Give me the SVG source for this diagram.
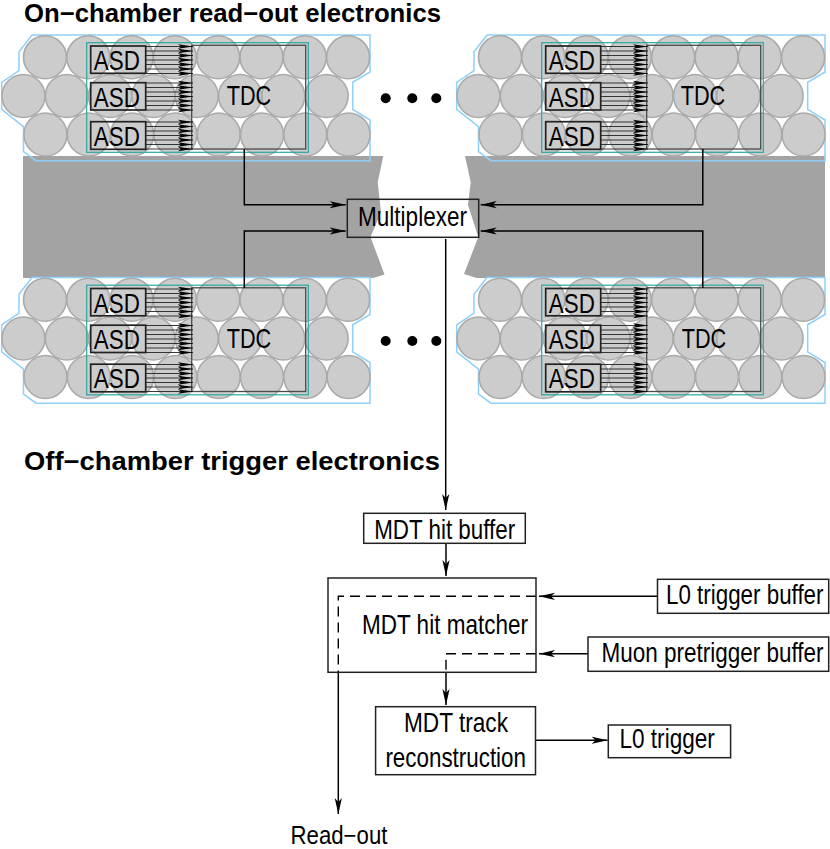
<svg xmlns="http://www.w3.org/2000/svg" xmlns:xlink="http://www.w3.org/1999/xlink" width="830" height="849" viewBox="0 0 830 849">
<style>
text{font-family:"Liberation Sans",Arial,sans-serif;fill:#000}
.t{font-size:28px}
.h{font-size:25px;font-weight:bold}
.box{fill:none;stroke:#222;stroke-width:1.5}
.asd{fill:none;stroke:#222;stroke-width:1.7}
.tdc{fill:none;stroke:#4a4a4a;stroke-width:1.3}
.teal{fill:none;stroke:#2ea6a2;stroke-width:1.2}
.shell{fill:none;stroke:#8fd0fa;stroke-width:1.5}
.tube{fill:#ccc;stroke:#aaa;stroke-width:1.6}
.wire{fill:none;stroke:#222;stroke-width:.9}
.head{fill:#000}
.conn{fill:none;stroke:#000;stroke-width:1.5}
.dash{fill:none;stroke:#000;stroke-width:1.4;stroke-dasharray:10 6}
</style>
<defs>
<marker id="arrow" markerUnits="userSpaceOnUse" markerWidth="20" markerHeight="10" refX="16" refY="5" orient="auto">
<path d="M0 1.4L16 5L0 8.6L4 5z" fill="#000"/>
</marker>
<g id="tubes">
<polygon class="shell" points="32,35 370,35 370,72 352.7,82.3 352.7,109.3 370,120 370,160.7 36,160.7 23.5,151.7 23.5,126.7 1.7,109.3 1.7,82.3 19,70.7 19,51.7"/>
<g class="tube">
<circle cx="45" cy="57.3" r="21.5"/><circle cx="88.3" cy="57.3" r="21.5"/><circle cx="131.6" cy="57.3" r="21.5"/><circle cx="174.9" cy="57.3" r="21.5"/><circle cx="218.2" cy="57.3" r="21.5"/><circle cx="261.5" cy="57.3" r="21.5"/><circle cx="304.8" cy="57.3" r="21.5"/><circle cx="348.1" cy="57.3" r="21.5"/>
<circle cx="23.5" cy="96" r="21.5"/><circle cx="66.8" cy="96" r="21.5"/><circle cx="110.1" cy="96" r="21.5"/><circle cx="153.4" cy="96" r="21.5"/><circle cx="196.7" cy="96" r="21.5"/><circle cx="240" cy="96" r="21.5"/><circle cx="283.3" cy="96" r="21.5"/><circle cx="326.6" cy="96" r="21.5"/>
<circle cx="45.5" cy="134.5" r="21.5"/><circle cx="88.8" cy="134.5" r="21.5"/><circle cx="132.1" cy="134.5" r="21.5"/><circle cx="175.4" cy="134.5" r="21.5"/><circle cx="218.7" cy="134.5" r="21.5"/><circle cx="262" cy="134.5" r="21.5"/><circle cx="305.3" cy="134.5" r="21.5"/><circle cx="348.6" cy="134.5" r="21.5"/>
</g>
<rect class="teal" x="86.7" y="42.7" width="221.6" height="109.6"/>
<rect class="tdc" x="191.7" y="45.3" width="114" height="103.7"/>
</g>
<g id="bundle">
<path class="wire" d="M146 0H193M146 4.5H193M146 9H193M146 13.5H193M146 18H193M146 22.5H193M146 27H193"/>
<path class="head" d="M178 -2.2L193 0L178 2.2L181 0zM178 2.3L193 4.5L178 6.7L181 4.5zM178 6.8L193 9L178 11.2L181 9zM178 11.3L193 13.5L178 15.7L181 13.5zM178 15.8L193 18L178 20.2L181 18zM178 20.3L193 22.5L178 24.7L181 22.5zM178 24.8L193 27L178 29.2L181 27z"/>
</g>
<g id="rack">
<use xlink:href="#tubes" href="#tubes"/>
<rect class="asd" x="90.7" y="46" width="55" height="27.3"/>
<rect class="asd" x="90.7" y="82.7" width="55" height="27.3"/>
<rect class="asd" x="90.7" y="121.7" width="55" height="27.6"/>
<use xlink:href="#bundle" href="#bundle" y="46.5"/>
<use xlink:href="#bundle" href="#bundle" y="83"/>
<use xlink:href="#bundle" href="#bundle" y="122"/>
</g>
</defs>
<rect width="830" height="849" fill="#fff"/>
<g id="band" fill="#a3a3a3">
<polygon points="23,156 383.3,156 377.7,182.3 381,212 370.5,237 384.5,274.5 373,278 23,278"/>
<polygon points="825,156 465,156 470.7,182.3 468,205 478.3,237 464,274 476.7,278 825,278"/>
</g>
<text class="h" x="24" y="21.7" textLength="417" lengthAdjust="spacingAndGlyphs">On−chamber read−out electronics</text>
<text class="h" x="24" y="470" textLength="416" lengthAdjust="spacingAndGlyphs">Off−chamber trigger electronics</text>
<g id="chamber-top-left">
<use xlink:href="#rack" href="#rack"/>
<text class="t" x="93.8" y="70" textLength="46" lengthAdjust="spacingAndGlyphs">ASD</text>
<text class="t" x="93.8" y="106.5" textLength="46" lengthAdjust="spacingAndGlyphs">ASD</text>
<text class="t" x="93.8" y="145.5" textLength="46" lengthAdjust="spacingAndGlyphs">ASD</text>
<text class="t" x="226.7" y="105" textLength="44.5" lengthAdjust="spacingAndGlyphs">TDC</text>
</g>
<g id="chamber-top-right" transform="translate(455 0)">
<use xlink:href="#rack" href="#rack"/>
<text class="t" x="93.8" y="70" textLength="46" lengthAdjust="spacingAndGlyphs">ASD</text>
<text class="t" x="93.8" y="106.5" textLength="46" lengthAdjust="spacingAndGlyphs">ASD</text>
<text class="t" x="93.8" y="145.5" textLength="46" lengthAdjust="spacingAndGlyphs">ASD</text>
<text class="t" x="225.7" y="105" textLength="44.5" lengthAdjust="spacingAndGlyphs">TDC</text>
</g>
<g id="chamber-bottom-left" transform="translate(0 242.5)">
<use xlink:href="#rack" href="#rack"/>
<text class="t" x="93.8" y="70" textLength="46" lengthAdjust="spacingAndGlyphs">ASD</text>
<text class="t" x="93.8" y="106.5" textLength="46" lengthAdjust="spacingAndGlyphs">ASD</text>
<text class="t" x="93.8" y="145.5" textLength="46" lengthAdjust="spacingAndGlyphs">ASD</text>
<text class="t" x="226.7" y="105" textLength="44.5" lengthAdjust="spacingAndGlyphs">TDC</text>
</g>
<g id="chamber-bottom-right" transform="translate(455 242.5)">
<use xlink:href="#rack" href="#rack"/>
<text class="t" x="93.8" y="70" textLength="46" lengthAdjust="spacingAndGlyphs">ASD</text>
<text class="t" x="93.8" y="106.5" textLength="46" lengthAdjust="spacingAndGlyphs">ASD</text>
<text class="t" x="93.8" y="145.5" textLength="46" lengthAdjust="spacingAndGlyphs">ASD</text>
<text class="t" x="226.7" y="105" textLength="44.5" lengthAdjust="spacingAndGlyphs">TDC</text>
</g>
<g id="dots" fill="#000">
<circle cx="385.7" cy="98.3" r="5"/><circle cx="412.3" cy="98.3" r="5"/><circle cx="436.3" cy="98.3" r="5"/>
<circle cx="385.7" cy="341" r="5"/><circle cx="412.3" cy="341" r="5"/><circle cx="436.3" cy="341" r="5"/>
</g>
<g id="connectors">
<path class="conn" marker-end="url(#arrow)" d="M244.3 149V204.7H345.7"/>
<path class="conn" marker-end="url(#arrow)" d="M244.3 288V231H345.7"/>
<path class="conn" marker-end="url(#arrow)" d="M702.8 149V204.7H480.7"/>
<path class="conn" marker-end="url(#arrow)" d="M702.8 288V231H480.7"/>
<path class="conn" marker-end="url(#arrow)" d="M445.7 239V510"/>
<path class="conn" marker-end="url(#arrow)" d="M446 543.3V576"/>
<path class="conn" marker-end="url(#arrow)" d="M657.5 596.3H539"/>
<path class="conn" marker-end="url(#arrow)" d="M588 653.7H539"/>
<path class="dash" d="M536 596.3H338.3V672.3"/>
<path class="dash" d="M536 653.7H446V672.3"/>
<path class="conn" marker-end="url(#arrow)" d="M338.3 672.3V814"/>
<path class="conn" marker-end="url(#arrow)" d="M446 672.3V705"/>
<path class="conn" marker-end="url(#arrow)" d="M535.5 740.3H607.6"/>
</g>
<g id="multiplexer">
<rect class="box" x="347.3" y="199.3" width="131.4" height="38"/>
<text class="t" x="358" y="226" textLength="109" lengthAdjust="spacingAndGlyphs">Multiplexer</text>
</g>
<g id="mdt-hit-buffer">
<rect class="box" x="363.7" y="513.3" width="161.6" height="30"/>
<text class="t" x="374.2" y="539.3" textLength="141" lengthAdjust="spacingAndGlyphs">MDT hit buffer</text>
</g>
<g id="mdt-hit-matcher">
<rect class="box" x="328" y="578" width="208" height="94.3"/>
<text class="t" x="362" y="634.3" textLength="166" lengthAdjust="spacingAndGlyphs">MDT hit matcher</text>
</g>
<g id="l0-trigger-buffer">
<rect class="box" x="657.5" y="579.3" width="171.2" height="34"/>
<text class="t" transform="translate(666 604) scale(.7994 1)">L0 trigger buffer</text>
</g>
<g id="muon-pretrigger-buffer">
<rect class="box" x="588" y="637" width="240.7" height="34.3"/>
<text class="t" transform="translate(601.6 662.3) scale(.8033 1)">Muon pretrigger buffer</text>
</g>
<g id="mdt-track-reconstruction">
<rect class="box" x="375.6" y="706.7" width="159.9" height="68"/>
<text class="t" x="404" y="732.3" textLength="104" lengthAdjust="spacingAndGlyphs">MDT track</text>
<text class="t" x="385.4" y="766.7" textLength="140.6" lengthAdjust="spacingAndGlyphs">reconstruction</text>
</g>
<g id="l0-trigger">
<rect class="box" x="608.3" y="725" width="122.3" height="32.7"/>
<text class="t" x="619.5" y="748.3" textLength="95.3" lengthAdjust="spacingAndGlyphs">L0 trigger</text>
</g>
<g id="read-out">
<text style="font-size:25px" transform="translate(290.5 843.5) scale(.889 1)">Read−out</text>
</g>
</svg>
